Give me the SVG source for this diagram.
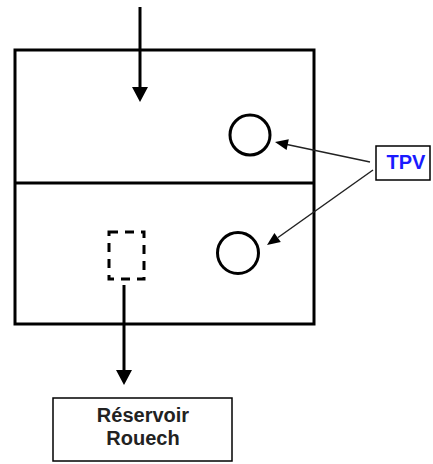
<svg xmlns="http://www.w3.org/2000/svg" width="433" height="464" viewBox="0 0 433 464">
<style>
.thick{stroke:#000;stroke-width:3;fill:none}
.thin{stroke:#222;stroke-width:1.5;fill:none}
.head{fill:#000;stroke:none}
.box{stroke:#000;stroke-width:1.5;fill:#fff}
.lbl{font-family:"Liberation Sans",Arial,sans-serif;font-weight:bold;text-anchor:middle}
</style>
<g id="tank">
<rect x="15" y="50" width="299" height="274" class="thick"/>
<line x1="15" y1="183" x2="314" y2="183" class="thick"/>
</g>
<g id="tpv-upper"><circle cx="250" cy="135" r="20" class="thick" stroke-width="2.5"/></g>
<g id="tpv-lower"><circle cx="238" cy="253" r="20.5" class="thick" stroke-width="2.5"/></g>
<g id="outlet"><rect x="109" y="232" width="35" height="47" class="thick" stroke-width="2.5" stroke-dasharray="9,7"/></g>
<g id="tpv-label">
<rect x="376" y="146" width="54" height="34" class="box"/>
<text x="406" y="169" class="lbl" font-size="20" fill="#1a1aff">TPV</text>
</g>
<g id="reservoir">
<rect x="53" y="398" width="179" height="63" class="box"/>
<text x="143" y="422" class="lbl" font-size="20" fill="#222">Réservoir</text>
<text x="143" y="445" class="lbl" font-size="20" fill="#222">Rouech</text>
</g>
<g id="connectors">
<line x1="140" y1="7" x2="140" y2="90" class="thick"/>
<polygon points="132,87 148,87 140,102" class="head"/>
<line x1="124" y1="285" x2="124" y2="372" class="thick"/>
<polygon points="116,370 132,370 124,385" class="head"/>
<line x1="370" y1="162" x2="287" y2="144.5" class="thin"/>
<polygon points="275,142 288.8,139.3 286.6,150.1" class="head"/>
<line x1="373" y1="170" x2="278" y2="237.5" class="thin"/>
<polygon points="267,245 280.8,242 274.4,233" class="head"/>
</g>
</svg>
